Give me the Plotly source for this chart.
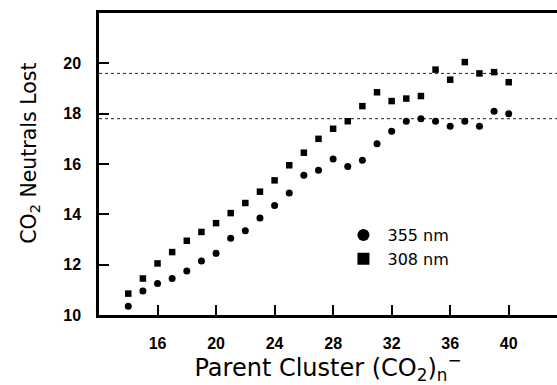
import plotly.graph_objects as go

# Parent cluster size n
n_values = list(range(14, 41))

# CO2 neutrals lost, 355 nm photodissociation
lost_355 = [10.35, 10.95, 11.25, 11.45, 11.75, 12.15, 12.45, 13.05, 13.35, 13.85,
            14.35, 14.85, 15.55, 15.75, 16.2, 15.9, 16.15, 16.8, 17.3, 17.7,
            17.8, 17.7, 17.5, 17.7, 17.5, 18.1, 18.0]

# CO2 neutrals lost, 308 nm photodissociation
lost_308 = [10.85, 11.45, 12.05, 12.5, 12.95, 13.3, 13.65, 14.05, 14.45, 14.9,
            15.35, 15.95, 16.45, 17.0, 17.4, 17.7, 18.3, 18.85, 18.5, 18.6,
            18.7, 19.75, 19.35, 20.05, 19.6, 19.65, 19.25]

# Plateau reference levels (dotted lines)
plateau_levels = [19.6, 17.8]

x_ticks = [16, 20, 24, 28, 32, 36, 40]
y_ticks = [10, 12, 14, 16, 18, 20]
x_range = [12, 43.3]
y_range = [10, 22]

TICK_FONT = "Liberation Sans"
TEXT_FONT = "DejaVu Sans"

fig = go.Figure()

fig.add_trace(go.Scatter(
    x=n_values, y=lost_355, mode="markers", name="355 nm",
    marker=dict(symbol="circle", size=7, color="black", line=dict(width=0)),
))
fig.add_trace(go.Scatter(
    x=n_values, y=lost_308, mode="markers", name="308 nm",
    marker=dict(symbol="square", size=6.5, color="black", line=dict(width=0)),
))

for lvl in plateau_levels:
    fig.add_shape(type="line", xref="paper", x0=0, x1=1, yref="y", y0=lvl, y1=lvl,
                  line=dict(color="#222222", width=1, dash="dot"), layer="below")

fig.update_layout(
    width=557, height=385,
    margin=dict(l=99, r=0, t=13, b=70),
    paper_bgcolor="white", plot_bgcolor="white",
    font=dict(family=TEXT_FONT, color="black"),
    showlegend=True,
    legend=dict(x=0.525, y=0.321, xanchor="left", yanchor="top",
                bgcolor="rgba(0,0,0,0)", font=dict(size=16, family=TEXT_FONT),
                itemsizing="constant", itemwidth=38, tracegroupgap=0),
    xaxis=dict(
        range=x_range, tickvals=x_ticks, ticks="inside", ticklen=10, tickwidth=1.5,
        tickcolor="black", showline=True, linecolor="black", linewidth=2.5,
        mirror=True, showgrid=False, zeroline=False,
        tickfont=dict(size=16, family=TICK_FONT, weight="bold"),
        ticklabelstandoff=12,
        title=dict(text="Parent Cluster (CO<sub>2</sub>)<sub>n</sub><sup>−</sup>",
                   font=dict(size=24, family=TEXT_FONT), standoff=0),
    ),
    yaxis=dict(
        range=y_range, tickvals=y_ticks, ticks="inside", ticklen=10, tickwidth=1.5,
        tickcolor="black", showline=True, linecolor="black", linewidth=2.5,
        showgrid=False, zeroline=False,
        tickfont=dict(size=16, family=TICK_FONT, weight="bold"),
        ticklabelstandoff=12,
    ),
    annotations=[
        dict(text="CO<sub>2</sub> Neutrals Lost", textangle=-90,
             xref="paper", yref="paper", x=-0.15, y=0.535,
             xanchor="center", yanchor="middle", showarrow=False,
             font=dict(size=20.5, family=TEXT_FONT, color="black")),
    ],
)

fig.write_html("out.html")
